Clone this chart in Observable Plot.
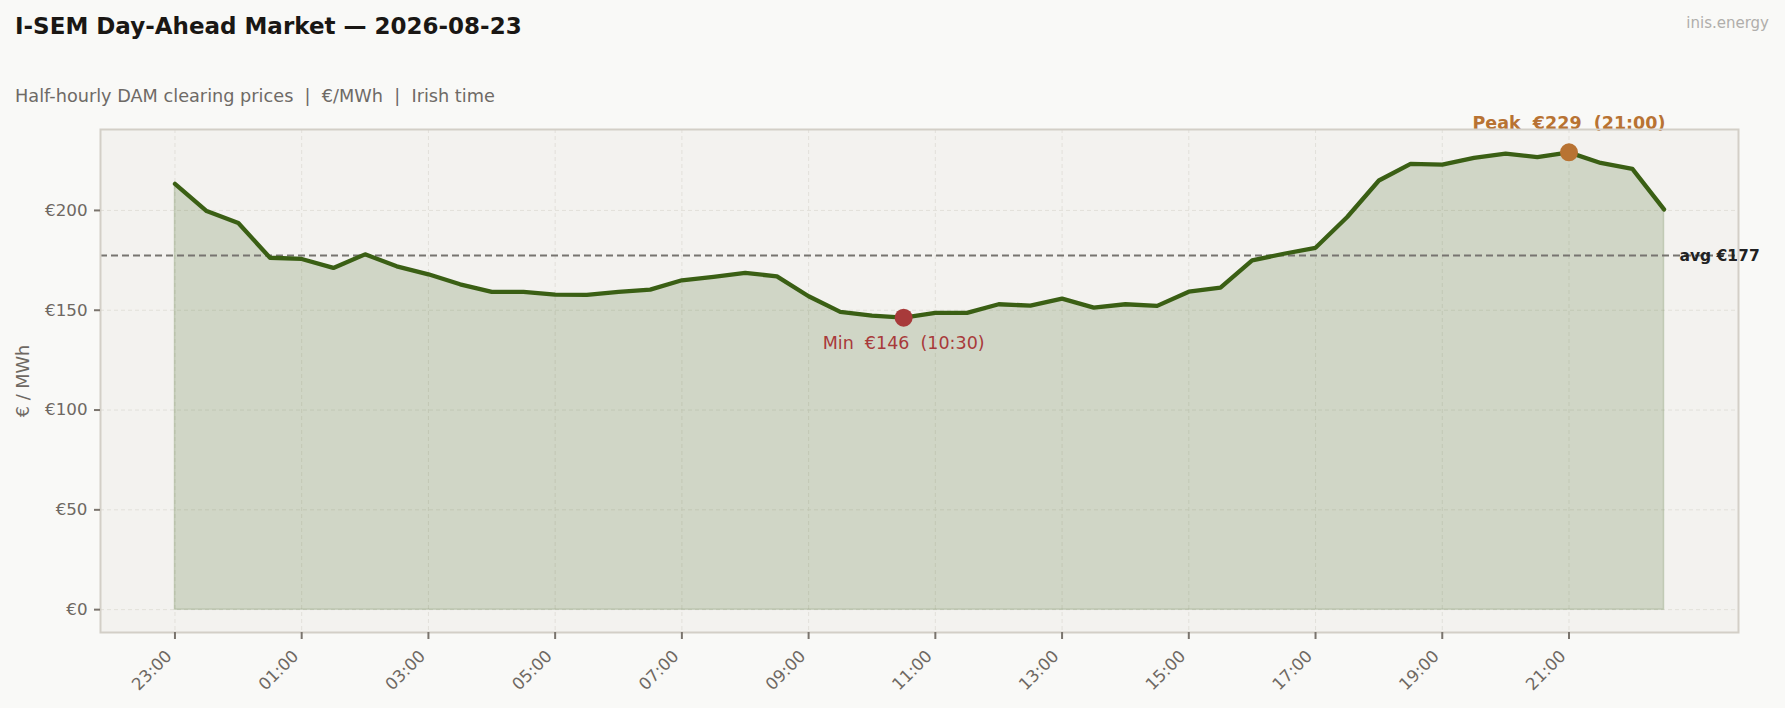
<!DOCTYPE html>
<html>
<head>
<meta charset="utf-8">
<script src="https://cdn.jsdelivr.net/npm/d3@7"></script>
<script src="https://cdn.jsdelivr.net/npm/@observablehq/plot@0.6"></script>
<style>
  html, body { margin: 0; padding: 0; background: #f9f9f7; }
  body { width: 1785px; height: 708px; overflow: hidden; font-family: "DejaVu Sans", sans-serif; }
  #header { position: relative; height: 110px; }
  #title { position: absolute; left: 15px; top: 14.5px; font-size: 23px; line-height: 1; font-weight: bold; color: #1a1714; white-space: nowrap; }
  #subtitle { position: absolute; left: 15px; top: 87.5px; font-size: 17.7px; line-height: 1; color: #6e6a66; white-space: pre; }
  #brand { position: absolute; right: 16px; top: 15.5px; font-size: 15px; line-height: 1; color: #b0aeab; }
</style>
</head>
<body>
<div id="header">
  <div id="title">I-SEM Day-Ahead Market — 2026-08-23</div>
  <div id="subtitle">Half-hourly DAM clearing prices  |  €/MWh  |  Irish time</div>
  <div id="brand">inis.energy</div>
</div>
<div id="chart"></div>
<script>
const times = ["23:00","23:30","00:00","00:30","01:00","01:30","02:00","02:30","03:00","03:30",
  "04:00","04:30","05:00","05:30","06:00","06:30","07:00","07:30","08:00","08:30",
  "09:00","09:30","10:00","10:30","11:00","11:30","12:00","12:30","13:00","13:30",
  "14:00","14:30","15:00","15:30","16:00","16:30","17:00","17:30","18:00","18:30",
  "19:00","19:30","20:00","20:30","21:00","21:30","22:00","22:30"];
const prices = [213.3,199.7,193.7,176.3,175.7,171.2,178.0,172.0,168.0,163.0,
  159.2,159.2,157.8,157.7,159.2,160.3,165.0,166.7,168.7,167.0,
  157.0,149.2,147.3,146.3,148.7,148.7,153.0,152.3,155.8,151.3,
  153.0,152.2,159.3,161.3,175.0,178.3,181.3,196.7,215.0,223.3,
  223.0,226.3,228.5,226.7,229.1,223.8,220.8,200.5];
const xTickLabels = ["23:00","01:00","03:00","05:00","07:00","09:00","11:00","13:00","15:00","17:00","19:00","21:00"];
const yTicks = [0, 50, 100, 150, 200];

const data = times.map((t, i) => ({t, h: i * 0.5, price: prices[i]}));
const xTicks = xTickLabels.map(l => times.indexOf(l) * 0.5);
const labelAt = new Map(xTicks.map((h, i) => [h, xTickLabels[i]]));
const avg = d3.mean(prices);
const peak = data[d3.maxIndex(data, d => d.price)];
const low = data[d3.minIndex(data, d => d.price)];
const hMax = d3.max(data, d => d.h);
const pMax = d3.max(prices);
const xPad = hMax * 0.05, yPad = pMax * 0.05;

const tickColor = "#6e6862";
const gridColor = "#e2e0da";
const green = "#3a5f14";

const chart = Plot.plot({
  width: 1785,
  height: 598,
  marginTop: 19,
  marginBottom: 76,
  marginLeft: 100,
  marginRight: 47,
  style: {fontFamily: "DejaVu Sans", fontSize: "16.7px", background: "transparent", overflow: "visible"},
  x: {domain: [-xPad, hMax + xPad]},
  y: {domain: [-yPad, pMax + yPad]},
  marks: [
    Plot.frame({fill: "#f3f2ef", stroke: null}),
    Plot.gridX(xTicks, {stroke: gridColor, strokeOpacity: 1, strokeWidth: 1, strokeDasharray: "4,3"}),
    Plot.gridY(yTicks, {stroke: gridColor, strokeOpacity: 1, strokeWidth: 1, strokeDasharray: "4,3"}),
    Plot.areaY(data, {x: "h", y: "price", fill: green, fillOpacity: 0.19, stroke: green, strokeOpacity: 0.18, strokeWidth: 1.5}),
    Plot.ruleY([avg], {stroke: "#777470", strokeWidth: 2, strokeDasharray: "7,4"}),
    Plot.lineY(data, {x: "h", y: "price", stroke: green, strokeWidth: 4.3, strokeLinejoin: "round"}),
    Plot.dot([peak], {x: "h", y: "price", r: 9, fill: "#b87333"}),
    Plot.dot([low], {x: "h", y: "price", r: 9, fill: "#a83a3a"}),
    Plot.text([peak], {x: "h", y: "price", text: d => `Peak  €${Math.round(d.price)}  (${d.t})`, dy: -23, lineAnchor: "bottom", fill: "#b87333", fontWeight: "bold", fontSize: 17.5}),
    Plot.text([low], {x: "h", y: "price", text: d => `Min  €${Math.round(d.price)}  (${d.t})`, dy: 31, lineAnchor: "bottom", fill: "#a83a3a", fontSize: 17.5}),
    Plot.text([avg], {y: d => d, text: d => `avg €${Math.round(d)}`, frameAnchor: "right", dx: -59, textAnchor: "start", lineAnchor: "middle", fill: "#222", fontWeight: "bold", fontSize: 15.5}),
    Plot.frame({stroke: "#d3cfc7", strokeWidth: 2}),
    Plot.axisY({ticks: yTicks, tickFormat: d => `€${d}`, tickSize: 6, tickPadding: 7, fill: tickColor, stroke: "#7a746d", strokeWidth: 2, fontSize: 16.7, label: null}),
    Plot.axisX({ticks: xTicks, tickFormat: () => "", tickSize: 7, stroke: "#7a746d", strokeWidth: 2, label: null}),
    Plot.text(xTicks, {x: d => d, text: d => labelAt.get(d), frameAnchor: "bottom", dx: -6, dy: 21, rotate: -45, textAnchor: "end", lineAnchor: "middle", fill: tickColor, fontSize: 16.7}),
    Plot.text(["€ / MWh"], {text: d => d, frameAnchor: "left", dx: -77, rotate: -90, textAnchor: "middle", lineAnchor: "middle", fill: tickColor, fontSize: 17.7})
  ]
});
document.getElementById("chart").appendChild(chart);
</script>
</body>
</html>
